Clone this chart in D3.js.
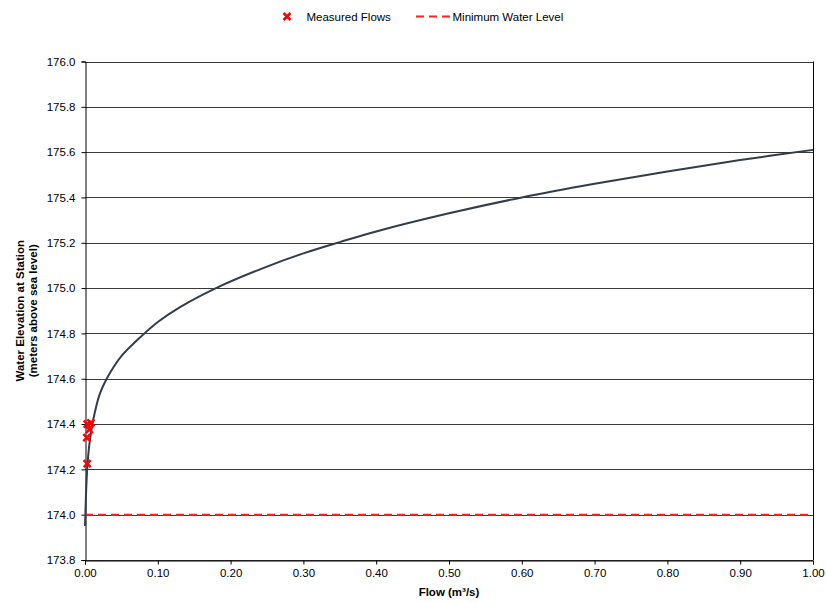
<!DOCTYPE html>
<html>
<head>
<meta charset="utf-8">
<script src="https://cdn.jsdelivr.net/npm/d3@7"></script>
<style>
  body { margin: 0; background: #fff; }
  svg { display: block; font-family: "Liberation Sans", Arial, sans-serif; }
</style>
</head>
<body>
<svg id="chart" width="826" height="603"></svg>
<script>
// rating curve
const curveFlow = [0, 0.0005, 0.0015, 0.003, 0.006, 0.0114, 0.02, 0.0298, 0.04, 0.05, 0.07, 0.1, 0.13, 0.18, 0.25, 0.3, 0.35, 0.4, 0.5, 0.6, 0.7, 0.8, 0.9, 1.0];
const curveElev = [173.95, 174.0, 174.1, 174.2, 174.31, 174.42, 174.53, 174.6, 174.655, 174.70, 174.765, 174.85, 174.915, 175.0, 175.095, 175.153, 175.203, 175.25, 175.33, 175.4, 175.46, 175.515, 175.565, 175.61];

// measured flows (red crosses)
const measuredFlow = [0.003, 0.008, 0.006, 0.0025, 0.003];
const measuredElev = [174.40, 174.405, 174.375, 174.34, 174.225];

const minLevel = 174.0;

const yTicks = [173.8, 174.0, 174.2, 174.4, 174.6, 174.8, 175.0, 175.2, 175.4, 175.6, 175.8, 176.0];
const xTicks = [0, 0.1, 0.2, 0.3, 0.4, 0.5, 0.6, 0.7, 0.8, 0.9, 1.0];

const margin = {left: 85, right: 13, top: 61.5, bottom: 43};
const width = 826, height = 603;

const svg = d3.select('#chart');

const x = d3.scaleLinear().domain([0, 1]).range([margin.left, width - margin.right]);
const y = d3.scaleLinear().domain([173.8, 176.0]).range([height - margin.bottom, margin.top]);

const fontSize = '11.5px';

// horizontal gridlines
svg.append('g')
  .selectAll('line')
  .data(yTicks)
  .join('line')
  .attr('x1', x(0)).attr('x2', x(1))
  .attr('y1', d => Math.round(y(d)) + 0.5).attr('y2', d => Math.round(y(d)) + 0.5)
  .attr('stroke', '#3a3a3a')
  .attr('stroke-width', 1);

// right border of plot area
svg.append('line')
  .attr('x1', Math.round(x(1)) + 0.5).attr('x2', Math.round(x(1)) + 0.5)
  .attr('y1', y(176)).attr('y2', y(173.8))
  .attr('stroke', '#000');

// y axis
const yAxis = svg.append('g')
  .attr('transform', `translate(${Math.round(x(0)) + 0.5},0)`)
  .call(d3.axisLeft(y).tickValues(yTicks).tickFormat(d3.format('.1f')).tickSize(4).tickPadding(6));
yAxis.select('.domain').attr('stroke', '#000');
yAxis.selectAll('.tick line').attr('stroke', '#000');
yAxis.selectAll('text').attr('font-size', fontSize).attr('fill', '#000').attr('font-family', '"Liberation Sans", Arial, sans-serif');

// x axis
const xAxis = svg.append('g')
  .attr('transform', `translate(0,${Math.round(y(173.8)) + 0.5})`)
  .call(d3.axisBottom(x).tickValues(xTicks).tickFormat(d3.format('.2f')).tickSize(4).tickPadding(4));
xAxis.select('.domain').attr('stroke', '#000');
xAxis.selectAll('.tick line').attr('stroke', '#000');
xAxis.selectAll('text').attr('font-size', fontSize).attr('fill', '#000').attr('font-family', '"Liberation Sans", Arial, sans-serif');

// minimum water level (dashed red)
svg.append('line')
  .attr('x1', x(0)).attr('x2', x(1))
  .attr('y1', y(minLevel)).attr('y2', y(minLevel))
  .attr('stroke', '#ff2020')
  .attr('stroke-width', 2)
  .attr('stroke-dasharray', '8,5');

// rating curve
const curvePts = curveFlow.map((q, i) => [q, curveElev[i]]);
const line = d3.line()
  .x(d => x(d[0]))
  .y(d => y(d[1]))
  .curve(d3.curveCatmullRom.alpha(0.5));

svg.append('path')
  .datum(curvePts)
  .attr('d', line)
  .attr('fill', 'none')
  .attr('stroke', '#333d49')
  .attr('stroke-width', 2);

// measured flows
const cross = 'M-3.5,-3.5L3.5,3.5M3.5,-3.5L-3.5,3.5';
svg.append('g')
  .selectAll('path')
  .data(measuredFlow.map((q, i) => [q, measuredElev[i]]))
  .join('path')
  .attr('transform', d => `translate(${x(d[0])},${y(d[1])})`)
  .attr('d', cross)
  .attr('stroke', '#ff0000')
  .attr('stroke-width', 2.5)
  .attr('fill', 'none');

// axis titles
svg.append('text')
  .attr('x', (x(0) + x(1)) / 2)
  .attr('y', 596)
  .attr('text-anchor', 'middle')
  .attr('font-size', fontSize)
  .attr('font-weight', 'bold')
  .text('Flow (m³/s)');

const yMid = (y(173.8) + y(176)) / 2;
svg.append('text')
  .attr('transform', `translate(24,${yMid}) rotate(-90)`)
  .attr('text-anchor', 'middle')
  .attr('font-size', fontSize)
  .attr('font-weight', 'bold')
  .text('Water Elevation at Station');
svg.append('text')
  .attr('transform', `translate(37,${yMid}) rotate(-90)`)
  .attr('text-anchor', 'middle')
  .attr('font-size', fontSize)
  .attr('font-weight', 'bold')
  .text('(meters above sea level)');

// legend
const legend = svg.append('g');
legend.append('path')
  .attr('transform', 'translate(287,16.5)')
  .attr('d', cross)
  .attr('stroke', '#ff0000')
  .attr('stroke-width', 2.5)
  .attr('fill', 'none');
legend.append('text')
  .attr('x', 306.5).attr('y', 20.5)
  .attr('font-size', fontSize)
  .text('Measured Flows');
legend.append('line')
  .attr('x1', 416).attr('x2', 450)
  .attr('y1', 16.5).attr('y2', 16.5)
  .attr('stroke', '#ff2020')
  .attr('stroke-width', 2)
  .attr('stroke-dasharray', '8,5');
legend.append('text')
  .attr('x', 452.5).attr('y', 20.5)
  .attr('font-size', fontSize)
  .text('Minimum Water Level');
</script>
</body>
</html>
